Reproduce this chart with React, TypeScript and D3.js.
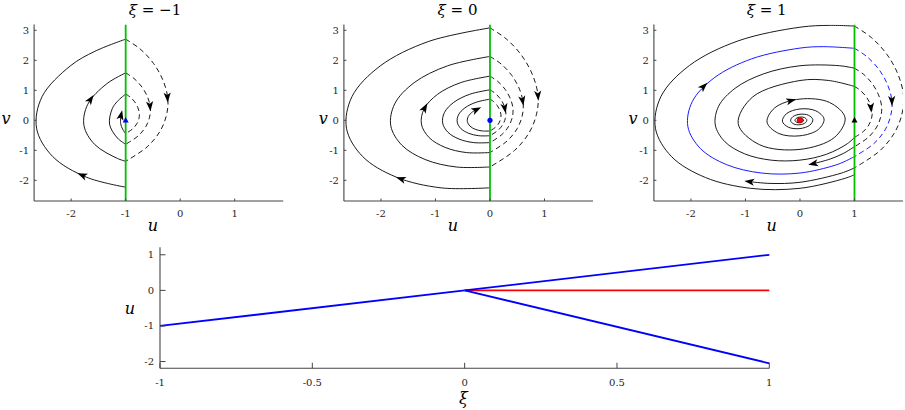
import React from 'react';
import * as d3 from 'd3';

type Pt = [number, number];
type Arrow = [number, number, number, number]; // u, v, du, dv (direction)

// ---------------- data ----------------
const xiValues: number[] = [-1, 0, 1];
const phaseUTicks: number[] = [-2, -1, 0, 1];
const phaseVTicks: number[] = [-2, -1, 0, 1, 2, 3];
const xiTicks: number[] = [-1, -0.5, 0, 0.5, 1];
const branchUTicks: number[] = [-2, -1, 0, 1];

// xi = -1
const p1Solid: Pt[][] = [
  [[-1, -2.23], [-1.722, -1.895], [-2.341, -1.204], [-2.635, -0.264], [-2.532, 0.795], [-2.015, 1.814], [-1.565, 2.3], [-1, 2.705]],
  [[-1, -1.366], [-1.154, -1.269], [-1.568, -0.806], [-1.765, -0.177], [-1.696, 0.533], [-1.35, 1.215], [-1, 1.581]],
  [[-1, -0.798], [-1.151, -0.592], [-1.296, -0.13], [-1.245, 0.391], [-1.151, 0.633], [-1, 0.876]],
  [[-1, -0.442], [-1.057, -0.292], [-1.092, -0.109], [-1.089, 0.143]],
];
const p1Dashed: Pt[][] = [
  [[-1, 2.705], [-0.736, 2.379], [-0.489, 1.894], [-0.313, 1.322], [-0.225, 0.705], [-0.251, 0.176], [-0.366, -0.352], [-0.603, -0.881], [-1, -1.366]],
  [[-1, 1.581], [-0.846, 1.391], [-0.701, 1.107], [-0.598, 0.773], [-0.547, 0.412], [-0.562, 0.103], [-0.629, -0.206], [-0.768, -0.515], [-1, -0.798]],
  [[-1, 0.876], [-0.914, 0.77], [-0.834, 0.614], [-0.778, 0.428], [-0.749, 0.228], [-0.757, 0.057], [-0.795, -0.114], [-0.872, -0.285], [-1, -0.442]],
];
const p1Arrows: Arrow[] = [
  [-1.784, -1.842, -1.842, 1.416],
  [-1.651, 0.676, 0.676, 1.786],
  [-0.235, 0.79, 0.03, -1],
  [-0.555, 0.5, 0.05, -1],
  [-1.089, 0.143, 0.143, 1.128],
];

// xi = 0
const p2Solid: Pt[][] = [
  [[0, -2.25], [-0.896, -2.252], [-1.721, -1.893], [-2.339, -1.203], [-2.633, -0.263], [-2.53, 0.795], [-2.014, 1.812], [-1.134, 2.623], [0, 3.081]],
  [[0, -1.555], [-0.619, -1.556], [-1.189, -1.308], [-1.616, -0.831], [-1.82, -0.182], [-1.748, 0.549], [-1.392, 1.253], [-0.783, 1.813], [0, 2.129]],
  [[0, -1.075], [-0.428, -1.076], [-0.822, -0.904], [-1.117, -0.575], [-1.258, -0.126], [-1.209, 0.38], [-0.962, 0.866], [-0.542, 1.253], [0, 1.472]],
  [[0, -0.743], [-0.296, -0.744], [-0.568, -0.625], [-0.772, -0.397], [-0.869, -0.087], [-0.835, 0.262], [-0.665, 0.598], [-0.374, 0.866], [0, 1.017]],
  [[0, -0.514], [-0.205, -0.514], [-0.393, -0.432], [-0.534, -0.275], [-0.601, -0.06], [-0.578, 0.182], [-0.46, 0.414], [-0.259, 0.599], [0, 0.704]],
  [[0, -0.355], [-0.141, -0.355], [-0.272, -0.299], [-0.369, -0.19], [-0.415, -0.042], [-0.399, 0.125], [-0.318, 0.286], [-0.26, 0.345]],
];
const p2Dashed: Pt[][] = [
  [[0, 3.081], [0.301, 2.71], [0.582, 2.158], [0.783, 1.505], [0.883, 0.803], [0.853, 0.201], [0.722, -0.401], [0.452, -1.003], [0, -1.555]],
  [[0, 2.129], [0.208, 1.872], [0.402, 1.491], [0.541, 1.04], [0.61, 0.555], [0.59, 0.139], [0.499, -0.277], [0.312, -0.693], [0, -1.075]],
  [[0, 1.472], [0.144, 1.295], [0.278, 1.031], [0.374, 0.719], [0.422, 0.384], [0.408, 0.096], [0.345, -0.192], [0.216, -0.479], [0, -0.743]],
  [[0, 1.017], [0.099, 0.894], [0.192, 0.712], [0.258, 0.497], [0.291, 0.265], [0.282, 0.066], [0.238, -0.133], [0.149, -0.331], [0, -0.514]],
  [[0, 0.704], [0.069, 0.619], [0.133, 0.493], [0.179, 0.344], [0.202, 0.183], [0.195, 0.046], [0.165, -0.092], [0.103, -0.229], [0, -0.355]],
];
const p2Arrows: Arrow[] = [
  [-1.62, -1.961, -1.961, 1.228],
  [-1.203, 0.39, 0.39, 1.281],
  [-0.26, 0.345, 0.345, 0.329],
  [0.88, 0.85, 0.04, -1],
  [0.595, 0.68, 0.1, -1],
  [0.268, 0.43, 0.1, -1],
];

// xi = 1
const p3Solid: Pt[][] = [
  [[-0.049, -0.005], [-0.0375, 0.0337], [0, 0.0573], [0.0438, 0.0482], [0.0671, 0.0067], [0.0513, -0.0462], [0, -0.0785], [-0.06, -0.066],
   [-0.0918, -0.0092], [-0.0702, 0.0632], [0, 0.1074], [0.0822, 0.0904], [0.1257, 0.0126], [0.0962, -0.0866], [0, -0.1471], [-0.1125, -0.1237],
   [-0.1721, -0.0172], [-0.1317, 0.1185], [0, 0.2014], [0.154, 0.1694], [0.2356, 0.0236], [0.1802, -0.1622], [0, -0.2757], [-0.2109, -0.2319],
   [-0.3226, -0.0323], [-0.2468, 0.2221], [0, 0.3775], [0.2887, 0.3176], [0.4417, 0.0442], [0.3379, -0.3041], [0, -0.5168], [-0.3953, -0.4348],
   [-0.6047, -0.0605], [-0.4625, 0.4163], [0, 0.7075], [0.5411, 0.5953], [0.8279, 0.0828], [0.6332, -0.5699], [0, -0.9687], [-0.7409, -0.815],
   [-1.1334, -0.1133], [-0.8669, 0.7802], [0, 1.3262], [0.528, 1.327], [1, 1.129]],
  [[1, -0.57], [0.868, -0.781], [0.4886, -1.1306], [0, -1.3278], [-0.5285, -1.3288], [-1.0156, -1.1171], [-1.3801, -0.7097], [-1.5536, -0.1554],
   [-1.4928, 0.4691], [-1.1884, 1.0695], [-0.6689, 1.5479], [0, 1.8179], [0.7236, 1.8192], [1, 1.737]],
  [[1, -0.877], [0.798, -1.103], [0.5571, -1.2893], [0.2583, -1.4395]],
  [[1, -1.814], [0.834, -1.93], [0, -2.2666], [-0.9022, -2.2683], [-1.7337, -1.907], [-2.3559, -1.2115], [-2.6521, -0.2652], [-2.5484, 0.8007],
   [-2.0285, 1.8257], [-1.1419, 2.6424], [0, 3.1032], [0.5482, 3.1645], [1, 3.14]],
  [[1, -1.585], [0.7606, -1.76], [0, -2.0669], [-0.549, -2.104], [-0.912, -2.048]],
];
const p3Dashed: Pt[][] = [
  [[1, 1.129], [1.11, 0.993], [1.213, 0.791], [1.287, 0.552], [1.324, 0.294], [1.313, 0.073], [1.265, -0.147], [1.166, -0.368], [1, -0.57]],
  [[1, 1.737], [1.17, 1.528], [1.328, 1.216], [1.441, 0.849], [1.498, 0.453], [1.481, 0.113], [1.407, -0.226], [1.255, -0.566], [1, -0.877]],
  [[1, 3.14], [1.307, 2.762], [1.594, 2.199], [1.798, 1.534], [1.9, 0.818], [1.87, 0.204], [1.736, -0.409], [1.46, -1.023], [1, -1.585]],
];
const p3CycleSolid: Pt[] = [
  [1, -1.208], [0.834, -1.361], [0.6469, -1.497], [0, -1.758], [-0.6997, -1.7593], [-1.3446, -1.4791], [-1.8273, -0.9397], [-2.057, -0.2057],
  [-1.9765, 0.621], [-1.5733, 1.416], [-0.8856, 2.0494], [0, 2.4068], [0.4252, 2.4545], [1, 2.4],
];
const p3CycleDashed: Pt[] = [
  [1, 2.4], [1.235, 2.111], [1.454, 1.681], [1.61, 1.173], [1.688, 0.625], [1.665, 0.156], [1.563, -0.313], [1.352, -0.782], [1, -1.208],
];
const p3Arrows: Arrow[] = [
  [-1.777, 1.113, 1.113, 2.0],
  [-0.178, 0.648, 0.648, 0.308],
  [0.258, -1.44, -1.44, -0.546],
  [-0.912, -2.048, -2.048, 0.502],
  [1.3, 0.45, 0.05, -1],
  [1.685, 0.68, 0.02, -1],
];

// bifurcation diagram branches (xi, u)
const branchBoundary: Pt[] = [[-1, -1], [0, 0]];
const branchUpper: Pt[] = [[0, 0], [1, 1]];
const branchLower: Pt[] = [[0, 0], [1, -2.05]];
const branchFocus: Pt[] = [[0, 0], [1, 0]];

// ---------------- layout ----------------
const FONT = 'DejaVu Serif, serif';
const U_DOMAIN: [number, number] = [-2.68, 1.89];
const V_DOMAIN: [number, number] = [-2.69, 3.19];
const PANEL_LEFT = [34.1, 343.9, 653.9];
const PANEL_W = 249.1;
const P_TOP = 24.6;
const P_BOT = 201;
const TITLE_X = [155, 457.5, 766.7];
const ULABEL_X = [153, 453, 771.7];
const VLABEL_X = [6, 323.3, 633];
const AXIS_COLOR = '#444';
const TICK_COLOR = '#262626';

const curveLine = (x: d3.ScaleLinear<number, number>, y: d3.ScaleLinear<number, number>) =>
  d3.line<Pt>().x(d => x(d[0])).y(d => y(d[1])).curve(d3.curveCatmullRom.alpha(0.5));

function ArrowHead({ a, x, y, color }: { a: Arrow; x: any; y: any; color: string }) {
  const px = x(a[0]);
  const py = y(a[1]);
  const dx = x(a[0] + a[2] * 0.01) - px;
  const dy = y(a[1] + a[3] * 0.01) - py;
  const ang = Math.atan2(dy, dx);
  const deg = (ang * 180) / Math.PI;
  const tx = px + Math.cos(ang) * 2;
  const ty = py + Math.sin(ang) * 2;
  return <path transform={`translate(${tx},${ty}) rotate(${deg})`} d="M4,0 L-6,-3.6 L-3.5,0 L-6,3.6 Z" fill={color} />;
}

interface PanelProps {
  idx: number;
  xi: number;
  solid: Pt[][];
  dashed: Pt[][];
  cycleSolid?: Pt[];
  cycleDashed?: Pt[];
  arrows: Arrow[];
}

function PhasePanel({ idx, xi, solid, dashed, cycleSolid, cycleDashed, arrows }: PanelProps) {
  const left = PANEL_LEFT[idx];
  const right = left + PANEL_W;
  const x = d3.scaleLinear().domain(U_DOMAIN).range([left, right]);
  const y = d3.scaleLinear().domain(V_DOMAIN).range([P_BOT, P_TOP]);
  const line = curveLine(x, y);
  const clipId = `clip-${idx}`;
  const xiLabel = xi < 0 ? `\u2212${Math.abs(xi)}` : `${xi}`;
  return (
    <g>
      <defs>
        <clipPath id={clipId}>
          <rect x={left} y={P_TOP} width={PANEL_W} height={P_BOT - P_TOP} />
        </clipPath>
      </defs>
      <g clipPath={`url(#${clipId})`} fill="none">
        {solid.map((s, i) => (
          <path key={`s${i}`} d={line(s) || ''} stroke="#000" strokeWidth={0.9} />
        ))}
        {dashed.map((s, i) => (
          <path key={`d${i}`} d={line(s) || ''} stroke="#000" strokeWidth={0.9} strokeDasharray="5,3.5" />
        ))}
        {cycleSolid && <path d={line(cycleSolid) || ''} stroke="#0000ff" strokeWidth={0.9} />}
        {cycleDashed && <path d={line(cycleDashed) || ''} stroke="#0000ff" strokeWidth={0.9} strokeDasharray="5,3.5" />}
        <line x1={x(xi)} x2={x(xi)} y1={P_TOP} y2={P_BOT} stroke="#00c000" strokeWidth={1.8} />
      </g>
      {idx === 0 && (
        <path transform={`translate(${x(-1)},${y(0)})`} d="M0,-3.2 L3,2.2 L-3,2.2 Z" fill="#0000ff" />
      )}
      {idx === 1 && <circle cx={x(0)} cy={y(0)} r={2.6} fill="#0000ff" />}
      {idx === 2 && (
        <g>
          <circle cx={x(0)} cy={y(0)} r={2.8} fill="#ff0000" stroke="#600" strokeWidth={0.5} />
          <path transform={`translate(${x(1)},${y(0)})`} d="M0,-3.2 L3,2.2 L-3,2.2 Z" fill="#000" />
        </g>
      )}
      {arrows.map((a, i) => (
        <ArrowHead key={`a${i}`} a={a} x={x} y={y} color="#000" />
      ))}
      <line x1={left} x2={left} y1={P_TOP} y2={P_BOT} stroke={AXIS_COLOR} strokeWidth={1.1} />
      <line x1={left} x2={right} y1={P_BOT} y2={P_BOT} stroke={AXIS_COLOR} strokeWidth={1.1} />
      {phaseVTicks.map(t => (
        <g key={`vt${t}`}>
          <line x1={left} x2={left + 2.5} y1={y(t)} y2={y(t)} stroke={AXIS_COLOR} strokeWidth={1} />
          <text x={left - 5} y={y(t) + 3.5} textAnchor="end" fontSize={10} fontFamily={FONT} fill={TICK_COLOR}>
            {String(t)}
          </text>
        </g>
      ))}
      {phaseUTicks.map(t => (
        <g key={`ut${t}`}>
          <line x1={x(t)} x2={x(t)} y1={P_BOT} y2={P_BOT - 2.5} stroke={AXIS_COLOR} strokeWidth={1} />
          <text x={x(t)} y={216.5} textAnchor="middle" fontSize={10} fontFamily={FONT} fill={TICK_COLOR}>
            {String(t)}
          </text>
        </g>
      ))}
      <text x={TITLE_X[idx]} y={15} textAnchor="middle" fontSize={15} fontFamily={FONT} fill="#000">
        <tspan fontStyle="italic">ξ</tspan>
        <tspan>{` = ${xiLabel}`}</tspan>
      </text>
      <text x={ULABEL_X[idx]} y={231} textAnchor="middle" fontSize={16} fontStyle="italic" fontFamily={FONT} fill="#000">
        u
      </text>
      <text x={VLABEL_X[idx]} y={124} textAnchor="middle" fontSize={16} fontStyle="italic" fontFamily={FONT} fill="#000">
        v
      </text>
    </g>
  );
}

function BranchPanel() {
  const x = d3.scaleLinear().domain([-1, 1]).range([160, 769.3]);
  const y = d3.scaleLinear().domain([-2.19, 1.21]).range([368.3, 247.3]);
  const line = d3.line<Pt>().x(d => x(d[0])).y(d => y(d[1]));
  return (
    <g>
      <g fill="none" strokeWidth={1.8}>
        <path d={line(branchFocus) || ''} stroke="#ff0000" />
        <path d={line(branchBoundary) || ''} stroke="#0000ff" />
        <path d={line(branchUpper) || ''} stroke="#0000ff" />
        <path d={line(branchLower) || ''} stroke="#0000ff" />
      </g>
      <line x1={160} x2={160} y1={247.3} y2={368.3} stroke={AXIS_COLOR} strokeWidth={1.1} />
      <line x1={160} x2={769.3} y1={368.3} y2={368.3} stroke={AXIS_COLOR} strokeWidth={1.1} />
      {branchUTicks.map(t => (
        <g key={`bu${t}`}>
          <line x1={160} x2={165.5} y1={y(t)} y2={y(t)} stroke={AXIS_COLOR} strokeWidth={1} />
          <text x={154} y={y(t) + 3.5} textAnchor="end" fontSize={10} fontFamily={FONT} fill={TICK_COLOR}>
            {String(t)}
          </text>
        </g>
      ))}
      {xiTicks.map(t => (
        <g key={`bx${t}`}>
          <line x1={x(t)} x2={x(t)} y1={368.3} y2={362.8} stroke={AXIS_COLOR} strokeWidth={1} />
          <text x={x(t)} y={385.5} textAnchor="middle" fontSize={10} fontFamily={FONT} fill={TICK_COLOR}>
            {String(t)}
          </text>
        </g>
      ))}
      <text x={130} y={314} textAnchor="middle" fontSize={16} fontStyle="italic" fontFamily={FONT} fill="#000">
        u
      </text>
      <text x={463.3} y={404} textAnchor="middle" fontSize={16} fontStyle="italic" fontFamily={FONT} fill="#000">
        ξ
      </text>
    </g>
  );
}

export default function App() {
  return (
    <svg
      width={905}
      height={410}
      viewBox="0 0 905 410"
      style={{ position: 'absolute', left: 0, top: 0, background: '#fff' }}
    >
      <rect x={0} y={0} width={905} height={410} fill="#fff" />
      <PhasePanel idx={0} xi={xiValues[0]} solid={p1Solid} dashed={p1Dashed} arrows={p1Arrows} />
      <PhasePanel idx={1} xi={xiValues[1]} solid={p2Solid} dashed={p2Dashed} arrows={p2Arrows} />
      <PhasePanel
        idx={2}
        xi={xiValues[2]}
        solid={p3Solid}
        dashed={p3Dashed}
        cycleSolid={p3CycleSolid}
        cycleDashed={p3CycleDashed}
        arrows={p3Arrows}
      />
      <BranchPanel />
    </svg>
  );
}
